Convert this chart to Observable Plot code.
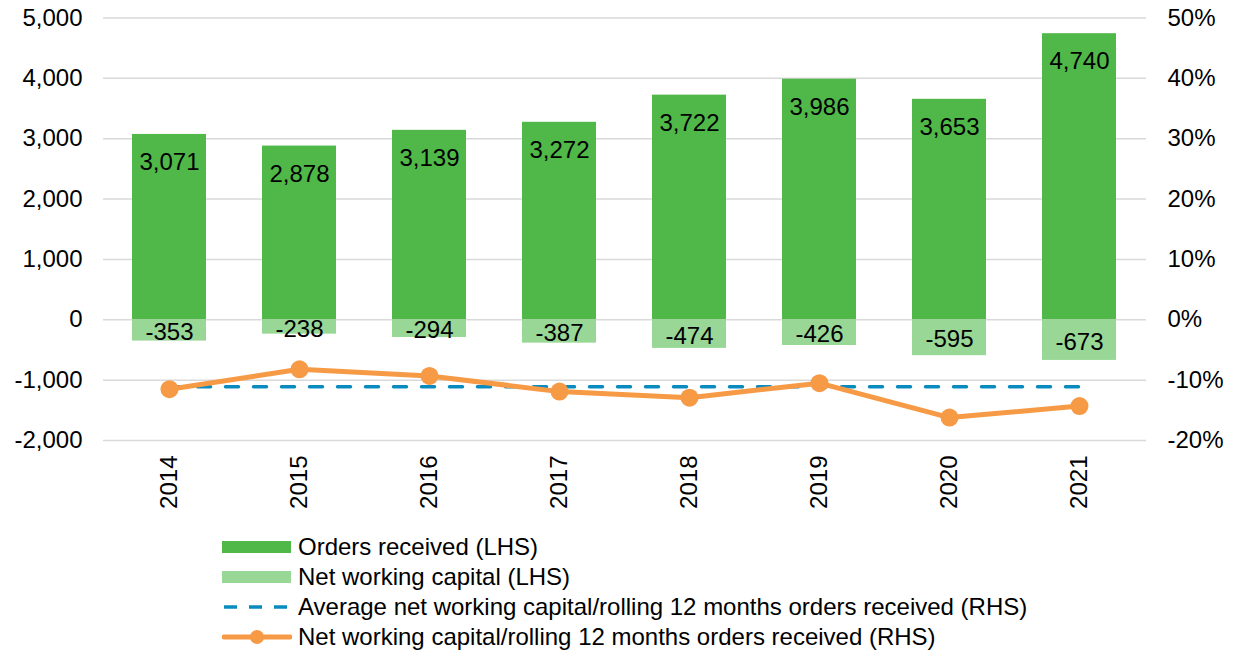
<!DOCTYPE html>
<html>
<head>
<meta charset="utf-8">
<script src="https://cdn.jsdelivr.net/npm/d3@7"></script>
<script src="https://cdn.jsdelivr.net/npm/@observablehq/plot@0.6"></script>
<style>
  body { margin: 0; background: #fff; font-family: "Liberation Sans", Arial, sans-serif; }
  #legend { position: relative; height: 126px; }
  .row { position: absolute; left: 222px; height: 30px; display: flex; align-items: center; font-size: 24px; color: #000; white-space: nowrap; }
  .row svg { margin-right: 6px; flex: none; }
</style>
</head>
<body>
<div id="chart"></div>
<div id="legend"></div>
<script>
const years = ["2014","2015","2016","2017","2018","2019","2020","2021"];
const orders = [3071, 2878, 3139, 3272, 3722, 3986, 3653, 4740];
const nwc = [-353, -238, -294, -387, -474, -426, -595, -673];
const ratio = [-11.5, -8.2, -9.3, -11.9, -12.9, -10.5, -16.2, -14.3]; // %
const avgRatio = -11.1; // %
const leftTicks = [-2000, -1000, 0, 1000, 2000, 3000, 4000, 5000];
const rightTickLabels = ["-20%", "-10%", "0%", "10%", "20%", "30%", "40%", "50%"];
const seriesNames = [
  "Orders received (LHS)",
  "Net working capital (LHS)",
  "Average net working capital/rolling 12 months orders received (RHS)",
  "Net working capital/rolling 12 months orders received (RHS)"
];

const green = "#50b848", lightGreen = "#98d795", orange = "#f79a45", blue = "#0a8bc0";

const data = years.map((y, i) => ({year: y, orders: orders[i], nwc: nwc[i], ratio: ratio[i], avg: avgRatio}));
// RHS percent shares LHS scale: 10% == 1000
const pctToY = p => p * 100;

const fmt = d => d.toLocaleString("en-US");

const chart = Plot.plot({
  width: 1248,
  height: 525,
  marginLeft: 103,
  marginRight: 102,
  marginTop: 17.5,
  marginBottom: 85,
  style: {fontFamily: "'Liberation Sans', Arial, sans-serif", fontSize: "24px", color: "#000", background: "#fff"},
  x: {domain: years, paddingInner: 0.43, paddingOuter: 0.215, align: 0.5, label: null},
  y: {domain: [-2000, 5000], label: null},
  marks: [
    Plot.gridY(leftTicks, {stroke: "#d9d9d9", strokeOpacity: 1, strokeWidth: 1.5}),
    Plot.barY(data, {x: "year", y1: 0, y2: "orders", fill: green}),
    Plot.barY(data, {x: "year", y1: 0, y2: "nwc", fill: lightGreen}),
    Plot.text(data, {x: "year", y: "orders", text: d => fmt(d.orders), dy: 28, fontSize: 24, fill: "#000"}),
    Plot.text(data, {x: "year", y: d => d.nwc / 2, text: d => fmt(d.nwc), dy: 2, fontSize: 24, fill: "#000"}),
    Plot.lineY(data, {x: "year", y: d => pctToY(d.avg), stroke: blue, strokeWidth: 3.5, strokeDasharray: "13,15"}),
    Plot.lineY(data, {x: "year", y: d => pctToY(d.ratio), stroke: orange, strokeWidth: 5}),
    Plot.dot(data, {x: "year", y: d => pctToY(d.ratio), r: 9, fill: orange}),
    Plot.axisY(leftTicks, {anchor: "left", tickSize: 0, tickPadding: 21, tickFormat: fmt, fontSize: 24, label: null}),
    Plot.axisY(leftTicks, {anchor: "right", tickSize: 0, tickPadding: 21, tickFormat: d => rightTickLabels[leftTicks.indexOf(d)], fontSize: 24, label: null, textAnchor: "start"}),
    Plot.axisX({tickSize: 0, tickPadding: 15, tickRotate: -90, fontSize: 24, label: null})
  ]
});
document.getElementById("chart").appendChild(chart);

const legend = document.getElementById("legend");
const swatches = [
  `<svg width="70" height="14"><rect x="0" y="1" width="69" height="12" fill="${green}"/></svg>`,
  `<svg width="70" height="14"><rect x="0" y="1" width="69" height="12" fill="${lightGreen}"/></svg>`,
  `<svg width="70" height="14"><line x1="2" x2="68" y1="7" y2="7" stroke="${blue}" stroke-width="3.5" stroke-dasharray="13,12"/></svg>`,
  `<svg width="70" height="20"><line x1="2" x2="68" y1="10" y2="10" stroke="${orange}" stroke-width="5" stroke-linecap="round"/><circle cx="35" cy="10" r="7" fill="${orange}"/></svg>`
];
seriesNames.forEach((name, i) => {
  const row = document.createElement("div");
  row.className = "row";
  row.style.top = (7 + i * 30) + "px";
  row.innerHTML = swatches[i] + `<span>${name}</span>`;
  legend.appendChild(row);
});
</script>
</body>
</html>
